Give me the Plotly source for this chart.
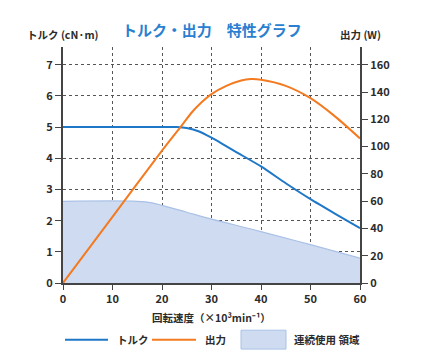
import plotly.graph_objects as go

# Data
torque_x = [0, 10, 20, 23, 25, 27.5, 30, 32, 35, 40, 45, 50, 55, 60]
torque_y = [5, 5, 5, 5, 4.97, 4.86, 4.66, 4.48, 4.2, 3.74, 3.2, 2.69, 2.22, 1.76]

power_x = [0, 10, 20, 24, 26, 28, 30, 33, 36, 38, 40, 45, 50, 55, 60]
power_y = [0, 48.5, 97, 115.5, 125, 132.5, 138.5, 144.5, 148.5, 149.5, 149, 144.5, 135.5, 122, 106]

cont_x = [0, 15, 18, 20, 25, 30, 40, 50, 60]
cont_y = [2.62, 2.62, 2.57, 2.49, 2.27, 2.05, 1.65, 1.23, 0.8]

x_ticks = [0, 10, 20, 30, 40, 50, 60]
left_ticks = [0, 1, 2, 3, 4, 5, 6, 7]
right_ticks = [0, 20, 40, 60, 80, 100, 120, 140, 160]

FONT = "Noto Sans CJK JP"
DARK = "#2b2b2b"
BLUE = "#1f77c8"
ORANGE = "#f47a20"

fig = go.Figure()
fig.add_trace(go.Scatter(x=cont_x, y=cont_y, mode="lines", line=dict(color="#a9c1e6", width=1.2, shape="spline"),
                         fill="tozeroy", fillcolor="#cfdbf0", name="連続使用 領域", showlegend=False))
fig.add_trace(go.Scatter(x=torque_x, y=torque_y, mode="lines", line=dict(color=BLUE, width=2, shape="spline", smoothing=0.6),
                         name="トルク", showlegend=False))
fig.add_trace(go.Scatter(x=power_x, y=power_y, mode="lines", line=dict(color=ORANGE, width=2, shape="spline", smoothing=0.8),
                         name="出力", yaxis="y2", showlegend=False))

tf = dict(size=11, family=FONT, color=DARK, weight="bold")
ymax = 7.57
fig.update_layout(
    width=426, height=354,
    margin=dict(l=63, r=66, t=47, b=71),
    paper_bgcolor="white", plot_bgcolor="white",
    font=dict(family=FONT, color=DARK, size=11),
    xaxis=dict(range=[0, 60], tickvals=x_ticks, showgrid=True, gridcolor="#555", griddash="dot", gridwidth=1,
               showline=True, linecolor="#444", linewidth=2, ticks="outside", ticklen=5, tickcolor="#444",
               tickfont=tf, zeroline=False),
    yaxis=dict(range=[0, ymax], tickvals=left_ticks, showgrid=True, gridcolor="#555", griddash="dot", gridwidth=1,
               showline=True, linecolor="#444", linewidth=2, ticks="outside", ticklen=6, tickcolor="#444",
               tickfont=tf, zeroline=False),
    yaxis2=dict(range=[0, ymax * 160 / 7], tickvals=right_ticks, overlaying="y", side="right", anchor="x",
                showgrid=False, showline=True, linecolor="#444", linewidth=2, ticks="outside", ticklen=6,
                tickcolor="#444", tickfont=tf, zeroline=False),
    showlegend=False,
)

ann = [
    dict(text="<b>トルク・出力　特性グラフ</b>", x=0.5, y=1.075, font=dict(size=15, color="#2a7fd0")),
    dict(text="<b>トルク (cN·m)</b>", x=0.0, y=1.052, font=dict(size=10.5, color=DARK)),
    dict(text="<b>出力 (W)</b>", x=1.0, y=1.052, font=dict(size=10.5, color=DARK)),
    dict(text="<b>回転速度（×10³min⁻¹）</b>", x=0.5, y=-0.148, font=dict(size=10.5, color=DARK)),
    dict(text="<b>トルク</b>", x=(115 - 63) / 297, y=-0.24, xanchor="left", font=dict(size=10.5, color=DARK)),
    dict(text="<b>出力</b>", x=(203 - 63) / 297, y=-0.24, xanchor="left", font=dict(size=10.5, color=DARK)),
    dict(text="<b>連続使用 領域</b>", x=(292 - 63) / 297, y=-0.24, xanchor="left", font=dict(size=10.5, color=DARK)),
]
for a in ann:
    a.setdefault("xanchor", "center")
    fig.add_annotation(xref="paper", yref="paper", showarrow=False, yanchor="middle", **a)

ly = -0.24
fig.add_shape(type="line", xref="paper", yref="paper", x0=(65 - 63) / 297, x1=(108 - 63) / 297, y0=ly, y1=ly,
              line=dict(color=BLUE, width=2))
fig.add_shape(type="line", xref="paper", yref="paper", x0=(152 - 63) / 297, x1=(196 - 63) / 297, y0=ly, y1=ly,
              line=dict(color=ORANGE, width=2))
fig.add_shape(type="rect", xref="paper", yref="paper", x0=(241 - 63) / 297, x1=(286 - 63) / 297,
              y0=ly - 0.04, y1=ly + 0.04, line=dict(color="#a9c1e6", width=1), fillcolor="#cfdbf0")

fig.write_html("out.html")
